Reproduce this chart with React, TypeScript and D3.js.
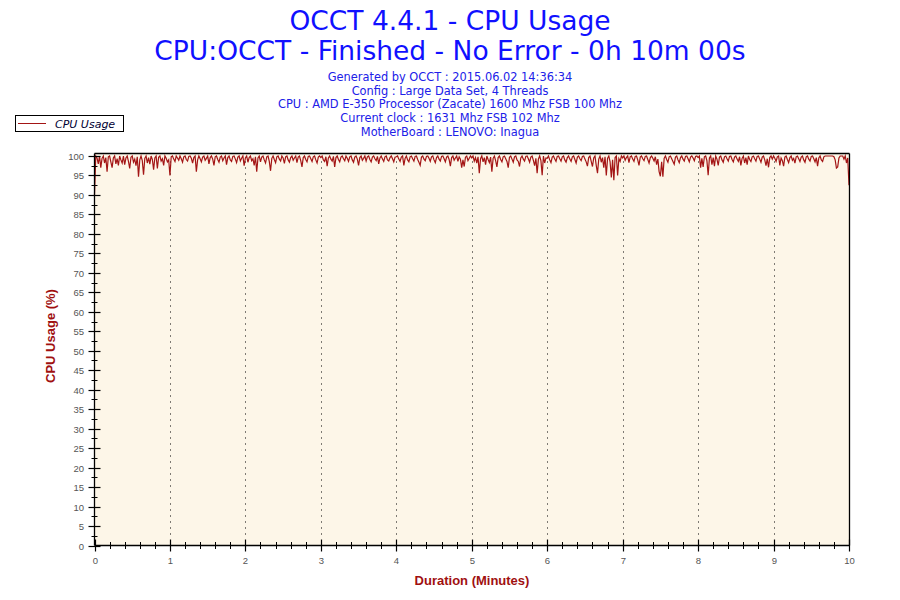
import React from "react";
import * as d3 from "d3";

const TITLE = "OCCT 4.4.1 - CPU Usage";
const SUBTITLE = "CPU:OCCT - Finished - No Error - 0h 10m 00s";
const INFO_LINES = [
  "Generated by OCCT : 2015.06.02 14:36:34",
  "Config : Large Data Set, 4 Threads",
  "CPU : AMD E-350 Processor (Zacate) 1600 Mhz FSB 100 Mhz",
  "Current clock : 1631 Mhz FSB 102 Mhz",
  "MotherBoard : LENOVO: Inagua",
];
const SERIES_NAME = "CPU Usage";
const X_LABEL = "Duration (Minutes)";
const Y_LABEL = "CPU Usage (%)";
const X_TICKS = [0, 1, 2, 3, 4, 5, 6, 7, 8, 9, 10];
const Y_TICKS = [0, 5, 10, 15, 20, 25, 30, 35, 40, 45, 50, 55, 60, 65, 70, 75, 80, 85, 90, 95, 100];
const SAMPLES_PER_MINUTE = 60;

// CPU usage (%) sampled once per second, one array per minute
const MIN0 = [90, 100, 99.5, 98, 100, 97, 99.4, 100, 98.2, 99.6, 96, 99.8, 100, 98.5, 97, 99.5, 100, 98, 99.3, 97.6, 100, 99, 98.2, 100, 97.8, 99.5, 100, 98.6, 96.8, 99.7, 100, 98.4, 99.2, 97.5, 99.8, 94.7, 99, 100, 98.8, 95.2, 99.4, 100, 98.2, 99.6, 97.9, 100, 99.1, 96.5, 99.5, 100, 96.8, 99.7, 100, 98.7, 99.3, 97.6, 100, 99.4, 98.5, 99];
const MIN1 = [95, 99.8, 100, 99.2, 98.6, 100, 99.5, 98.9, 100, 99.3, 98.4, 99.8, 100, 99.1, 98.7, 99.9, 100, 99.4, 98.2, 99.6, 100, 96, 99, 100, 99.3, 98.5, 99.7, 100, 98.9, 99.4, 100, 98, 99.6, 100, 99.2, 97.6, 99.8, 100, 99.1, 98.4, 99.7, 100, 98.8, 99.5, 100, 97.8, 99.6, 100, 99, 98.6, 99.9, 100, 99.2, 98.3, 99.7, 100, 98.7, 99.4, 100, 97.5];
const MIN2 = [99.5, 100, 98.4, 99.6, 100, 98.8, 99.3, 97.6, 99.8, 96, 99.5, 100, 98.5, 99.7, 100, 99, 98.2, 99.8, 100, 98.6, 96.2, 99.4, 100, 99.1, 98.3, 99.8, 100, 99.2, 98.7, 100, 99.5, 98.1, 99.8, 100, 99, 98.4, 99.6, 100, 98.9, 99.5, 100, 98.3, 99.7, 100, 98.8, 97.2, 99.6, 100, 99.1, 98.5, 99.9, 100, 99.3, 98.6, 99.8, 100, 99, 98.2, 99.7, 100];
const MIN3 = [99.6, 100, 99, 98.6, 99.8, 97.4, 99.5, 100, 99.2, 98.7, 99.9, 97.2, 99.6, 100, 99.1, 98.5, 99.7, 100, 99.3, 98.8, 100, 99.4, 98.6, 99.8, 100, 99, 98.4, 99.7, 100, 99.2, 97.6, 99.6, 100, 98.9, 99.4, 100, 98.7, 99.8, 100, 99.1, 98.5, 99.7, 100, 99.3, 98.8, 99.9, 98, 99.5, 100, 99.2, 98.6, 99.8, 100, 99, 98.7, 99.6, 100, 99.3, 98.5, 99.7];
const MIN4 = [99.8, 100, 99.2, 98.6, 99.7, 100, 97.6, 99.4, 100, 99, 98.5, 99.8, 100, 99.3, 98.7, 99.9, 100, 99.1, 98.4, 97.6, 99.7, 100, 99.2, 98.8, 99.9, 100, 99.4, 98.6, 99.8, 100, 99, 98.3, 99.6, 100, 99.2, 98.7, 99.9, 100, 99.3, 98.5, 99.7, 100, 99.1, 97.4, 99.6, 100, 98.9, 99.5, 100, 98.6, 99.8, 99.2, 97, 99, 97.3, 99.7, 100, 98.8, 99.4, 100];
const MIN5 = [99.5, 100, 98.7, 99.6, 98.2, 99.8, 95.6, 99.3, 100, 98.5, 99.6, 97.8, 100, 99.1, 98.3, 99.7, 96, 99.4, 100, 98.8, 97.2, 99.6, 100, 99.1, 98.5, 99.8, 100, 99.3, 98.6, 97, 99.7, 100, 99.2, 98.4, 99.8, 100, 99, 98.6, 97.3, 99.5, 100, 99.2, 98.7, 99.9, 100, 99.3, 98.4, 99.7, 100, 98.9, 97.5, 99.4, 95.6, 99.2, 100, 98.8, 95.1, 100, 98.2, 99.5];
const MIN6 = [99.4, 100, 99, 98.3, 99.7, 100, 99.2, 98.6, 99.9, 100, 99.3, 98.7, 99.8, 100, 99, 98.4, 99.6, 100, 99.2, 98.6, 99.8, 100, 99.1, 98.2, 99.7, 100, 99.3, 98.8, 99.9, 100, 99.2, 98.5, 97.4, 99.6, 100, 98.6, 97.3, 99.5, 100, 97.6, 95.6, 99.2, 100, 98.4, 99.6, 97, 99.8, 95, 99.4, 100, 98.5, 94.5, 99, 93.8, 99.6, 100, 95, 99.3, 98.6, 100];
const MIN7 = [99.5, 100, 98.9, 99.6, 100, 98.3, 99.8, 100, 99.2, 98.6, 99.9, 100, 99, 97.6, 99.7, 100, 99.3, 98.8, 99.9, 100, 99.1, 98.2, 99.6, 100, 99.4, 98.7, 99.8, 97.8, 99.2, 96, 94.8, 98.5, 94.7, 99.4, 100, 99.1, 98.4, 99.8, 100, 99.3, 98.6, 97.9, 99.7, 100, 99, 98.3, 99.6, 100, 99.2, 98.7, 99.9, 100, 99.3, 98.5, 99.7, 100, 99.5, 98.8, 99.9, 100];
const MIN8 = [99.6, 100, 97, 99.4, 97.2, 99.8, 100, 98.8, 95.1, 99.5, 100, 97.8, 99.6, 97.4, 100, 99.2, 97.6, 99.7, 100, 99, 98.4, 99.8, 100, 99.3, 98.7, 99.9, 100, 99.1, 98.5, 99.7, 100, 99.2, 98.6, 99.8, 97.6, 99.4, 100, 98.2, 99.6, 97.8, 100, 99.1, 98.6, 99.8, 100, 99.3, 98.7, 99.9, 100, 99.2, 98.4, 99.7, 100, 99, 97.5, 99.3, 97.1, 99.6, 100, 99.2];
const MIN9 = [100, 99.4, 98.6, 99.8, 100, 97.6, 99.5, 98.8, 97.4, 99.7, 100, 99.1, 98.3, 99.6, 100, 98.9, 99.4, 98.2, 99.8, 100, 99.3, 98.6, 99.7, 100, 99, 98.4, 99.8, 100, 99.2, 98.7, 99.9, 100, 99.3, 98.5, 99.6, 97.4, 99.5, 100, 99, 98.6, 99.8, 100, 100, 100, 100, 100, 100, 100, 99.8, 99, 96.9, 97.2, 99.5, 100, 100, 100, 99.2, 100, 98.2, 99.5, 92.5];

const CPU_USAGE = [...MIN0, ...MIN1, ...MIN2, ...MIN3, ...MIN4, ...MIN5, ...MIN6, ...MIN7, ...MIN8, ...MIN9];

const W = 900;
const H = 600;
const PLOT = { left: 94.5, right: 849.5, top: 153.5, bottom: 545.5 };

export default function App() {
  const x = d3.scaleLinear().domain([0, 10]).range([PLOT.left, PLOT.right - 0.5]);
  const y = d3.scaleLinear().domain([0, 100]).range([PLOT.bottom, 156]);

  const points: [number, number][] = CPU_USAGE.map((v, i) => [i / SAMPLES_PER_MINUTE, v]);
  const line = d3
    .line<[number, number]>()
    .x((d) => x(d[0]))
    .y((d) => y(d[1]));

  const xMinor = d3.range(0, 50).map((i) => i * 0.2).filter((v, i) => i % 5 !== 0);
  const yMinor = Y_TICKS.slice(0, -1).map((v) => v + 2.5);

  const titleFont = "'DejaVu Sans', Verdana, sans-serif";
  const smallFont = "'DejaVu Sans', Tahoma, sans-serif";
  const tickFont = "'Liberation Sans', Arial, sans-serif";

  return (
    <svg
      width={W}
      height={H}
      viewBox={`0 0 ${W} ${H}`}
      style={{ position: "absolute", left: 0, top: 0, background: "#fff" }}
    >
      <rect x={0} y={0} width={W} height={H} fill="#ffffff" />
      <text x={450} y={30} textAnchor="middle" fontFamily={titleFont} fontSize={26.5} fill="#1010ff">
        {TITLE}
      </text>
      <text x={450} y={60} textAnchor="middle" fontFamily={titleFont} fontSize={26.5} fill="#1010ff">
        {SUBTITLE}
      </text>
      {INFO_LINES.map((t, i) => (
        <text
          key={t}
          x={450}
          y={81 + i * 13.7}
          textAnchor="middle"
          fontFamily={smallFont}
          fontSize={11.4}
          fill="#2020e8"
        >
          {t}
        </text>
      ))}

      {/* legend */}
      <rect x={15.5} y={115.5} width={108} height={16} fill="#ffffff" stroke="#000" strokeWidth={1} />
      <line x1={18} x2={46} y1={123.5} y2={123.5} stroke="#a31515" strokeWidth={1} />
      <text x={55} y={127.5} fontFamily={smallFont} fontStyle="italic" fontSize={11} fill="#000033">
        {SERIES_NAME}
      </text>

      {/* plot background */}
      <rect
        x={PLOT.left}
        y={PLOT.top}
        width={PLOT.right - PLOT.left}
        height={PLOT.bottom - PLOT.top}
        fill="#fdf6e8"
      />

      {/* vertical dotted grid */}
      {X_TICKS.slice(1, -1).map((t) => (
        <line
          key={`g${t}`}
          x1={Math.round(x(t)) + 0.5}
          x2={Math.round(x(t)) + 0.5}
          y1={PLOT.top + 8}
          y2={PLOT.bottom - 6}
          stroke="#000"
          strokeWidth={1}
          strokeDasharray="1,5"
        />
      ))}

      {/* data line */}
      <path d={line(points) || ""} fill="none" stroke="#a31515" strokeWidth={1.2} strokeLinejoin="miter" />

      {/* frame */}
      <line x1={PLOT.left} x2={PLOT.right} y1={PLOT.top} y2={PLOT.top} stroke="#000" strokeWidth={1.3} />
      <line x1={PLOT.right} x2={PLOT.right} y1={PLOT.top} y2={PLOT.bottom} stroke="#000" strokeWidth={1.3} />
      <line x1={PLOT.left} x2={PLOT.left} y1={PLOT.top} y2={PLOT.bottom} stroke="#000" strokeWidth={1.3} />
      <line x1={PLOT.left} x2={PLOT.right} y1={PLOT.bottom} y2={PLOT.bottom} stroke="#000" strokeWidth={1.3} />

      {/* y axis ticks */}
      {Y_TICKS.map((t) => {
        const yy = Math.round(y(t)) + 0.5;
        return (
          <g key={`y${t}`}>
            <line x1={PLOT.left - 6} x2={PLOT.left + 6} y1={yy} y2={yy} stroke="#000" strokeWidth={1.2} />
            <text
              x={84}
              y={yy + 3.5}
              textAnchor="end"
              fontFamily={tickFont}
              fontSize={9.5}
              fill="#555"
            >
              {t}
            </text>
          </g>
        );
      })}
      {yMinor.map((t) => {
        const yy = Math.round(y(t)) + 0.5;
        return <line key={`ym${t}`} x1={PLOT.left - 3} x2={PLOT.left + 3} y1={yy} y2={yy} stroke="#000" strokeWidth={1} />;
      })}

      {/* x axis ticks */}
      {X_TICKS.map((t) => {
        const xx = Math.round(x(t)) + 0.5;
        return (
          <g key={`x${t}`}>
            <line x1={xx} x2={xx} y1={PLOT.bottom - 6} y2={PLOT.bottom + 6} stroke="#000" strokeWidth={1.2} />
            <text x={xx} y={564} textAnchor="middle" fontFamily={tickFont} fontSize={9.5} fill="#555">
              {t}
            </text>
          </g>
        );
      })}
      {xMinor.map((t) => {
        const xx = Math.round(x(t)) + 0.5;
        return <line key={`xm${t}`} x1={xx} x2={xx} y1={PLOT.bottom - 3.5} y2={PLOT.bottom + 3.5} stroke="#000" strokeWidth={1} />;
      })}

      {/* axis titles */}
      <text
        x={472}
        y={585}
        textAnchor="middle"
        fontFamily={tickFont}
        fontWeight="bold"
        fontSize={13}
        fill="#a01010"
      >
        {X_LABEL}
      </text>
      <text
        transform={`translate(55, 336) rotate(-90)`}
        textAnchor="middle"
        fontFamily={tickFont}
        fontWeight="bold"
        fontSize={13}
        fill="#a01010"
      >
        {Y_LABEL}
      </text>
    </svg>
  );
}
